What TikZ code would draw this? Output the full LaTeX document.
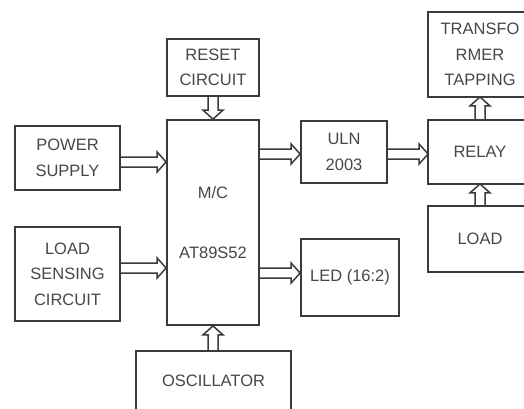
\documentclass[tikz,border=0pt]{standalone}
\usepackage{fontspec}
\setmainfont{Liberation Sans}
\usetikzlibrary{calc}
\definecolor{linecol}{HTML}{3A3A3A}
\definecolor{textcol}{HTML}{474747}
\tikzset{
  boxline/.style={draw=linecol, line width=1.8pt},
  block/.style={boxline, inner sep=0pt, align=center,
    text=textcol, font=\fontsize{16.5}{25.5}\selectfont},
  openblock/.style={block, draw=none},
  bigarrow/.style={draw=linecol, line width=1.5pt, line join=miter,
    to path={
      ($(\tikztostart)!5pt!90:(\tikztotarget)$)
      -- ($(\tikztotarget)!9pt!(\tikztostart)!5pt!-90:(\tikztostart)$)
      -- ($(\tikztotarget)!9pt!(\tikztostart)!10pt!-90:(\tikztostart)$)
      -- (\tikztotarget)
      -- ($(\tikztotarget)!9pt!(\tikztostart)!10pt!90:(\tikztostart)$)
      -- ($(\tikztotarget)!9pt!(\tikztostart)!5pt!90:(\tikztostart)$)
      -- ($(\tikztostart)!5pt!-90:(\tikztotarget)$)
    }}
}
\begin{document}
\begin{tikzpicture}[x=1pt,y=-1pt]
\useasboundingbox[fill=white] (0,0) rectangle (524,408);
\node[block, minimum width=92pt, minimum height=57pt] (rst) at (213,67.5) {RESET\\CIRCUIT};
\node[block, minimum width=92pt, minimum height=205pt] (mc) at (213,222.5) {M/C\\[34.5pt]AT89S52};
\node[block, minimum width=105pt, minimum height=64pt] (ps) at (67.5,158) {POWER\\SUPPLY};
\node[block, minimum width=105pt, minimum height=94pt] (lsc) at (67.5,274) {LOAD\\SENSING\\CIRCUIT};
\node[block, minimum width=86pt, minimum height=62pt] (uln) at (344,152) {ULN\\2003};
\node[block, minimum width=98pt, minimum height=77pt] (led) at (350,277.5) {LED (16:2)};
% boxes cut by the right and bottom edges of the picture
\node[openblock, minimum width=153pt, minimum height=58pt] (osc) at (213.5,381) {OSCILLATOR};
\node[openblock, minimum width=102pt, minimum height=62pt] (relay) at (480,152) {RELAY};
\node[openblock, minimum width=102pt, minimum height=83pt] (trf) at (480,54.5) {TRANSFO\\RMER\\TAPPING};
\node[openblock, minimum width=102pt, minimum height=64pt] (load) at (480,239) {LOAD};
\draw[boxline] ([yshift=-10pt]osc.south west) |- (osc.north east) -- ([yshift=-10pt]osc.south east);
\foreach \b in {relay,trf,load}
  \draw[boxline] ([xshift=20pt]\b.north east) -| (\b.south west) -- ([xshift=20pt]\b.south east);

\draw[bigarrow] (rst.south) to (mc.north);
\draw[bigarrow] (ps.east |- 0,162) to (mc.west |- 0,162);
\draw[bigarrow] (lsc.east |- 0,268) to (mc.west |- 0,268);
\draw[bigarrow] (osc.north -| mc.south) to (mc.south);
\draw[bigarrow] (mc.east |- 0,154) to (uln.west |- 0,154);
\draw[bigarrow] (uln.east |- 0,154) to (relay.west |- 0,154);
\draw[bigarrow] (mc.east |- 0,273) to (led.west |- 0,273);
\draw[bigarrow] (relay.north) to (trf.south);
\draw[bigarrow] (load.north) to (relay.south);
\end{tikzpicture}
\end{document}
